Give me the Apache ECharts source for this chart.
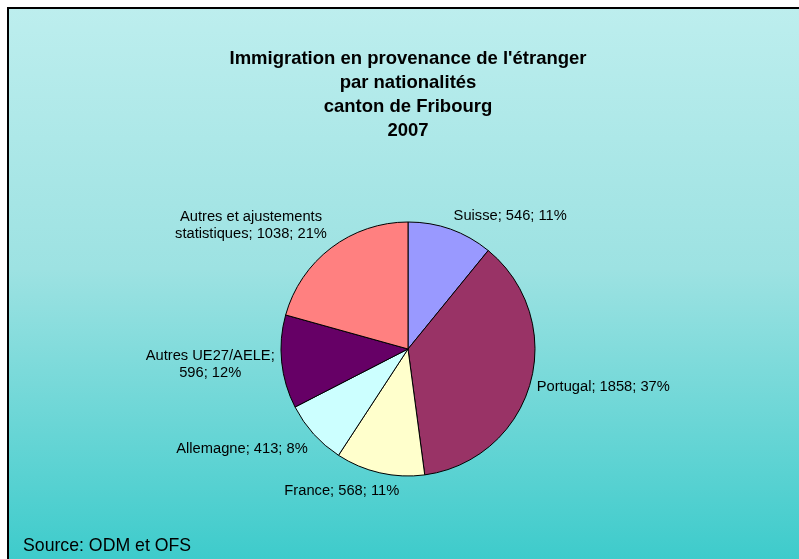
<!DOCTYPE html>
<html>
<head>
<meta charset="utf-8">
<script src="https://cdn.jsdelivr.net/npm/echarts@6/dist/echarts.min.js"></script>
<style>
  html, body { margin: 0; padding: 0; background: #fff; }
  #chart { width: 799px; height: 559px; }
</style>
</head>
<body>
<div id="chart"></div>
<script>
// données 2007, canton de Fribourg
var names = ['Suisse', 'Portugal', 'France', 'Allemagne', 'Autres UE27/AELE', 'Autres et ajustements statistiques'];
var values = [546, 1858, 568, 413, 596, 1038];
var colors = ['#9999FF', '#993366', '#FFFFCC', '#CCFFFF', '#660066', '#FF8080'];
var titleLines = ["Immigration en provenance de l'étranger", 'par nationalités', 'canton de Fribourg', '2007'];
var sourceText = 'Source: ODM et OFS';

// petits décalages des étiquettes (comme Excel les place)
var labelNudge = [[-6, -2], [-10, 0], [27, 6], [8, 7], [10, 1], [8, -13]];

var chart = echarts.init(document.getElementById('chart'));

var pieData = [];
for (var i = 0; i < names.length; i++) {
    pieData.push({
        name: names[i],
        value: values[i],
        itemStyle: { color: colors[i] }
    });
}

// étiquettes sur deux lignes, centrées
function labelText(p) {
    if (p.dataIndex == 5) {
        return '{c|Autres et ajustements}\n{c|statistiques; ' + p.value + '; ' + p.percent + '%}';
    }
    if (p.dataIndex == 4) {
        return '{c|Autres UE27/AELE;}\n{c|' + p.value + '; ' + p.percent + '%}';
    }
    return p.name + '; ' + p.value + '; ' + p.percent + '%';
}

var option = {
    animation: false,
    textStyle: { fontFamily: 'Liberation Sans, Arial, sans-serif' },
    graphic: [{
        type: 'rect',
        z: -10,
        shape: { x: 8, y: 8, width: 820, height: 580 },
        style: {
            fill: new echarts.graphic.LinearGradient(0, 0, 0, 1, [
                { offset: 0, color: '#BDEEEE' },
                { offset: 0.45, color: '#9DE2E2' },
                { offset: 1, color: '#34C9C9' }
            ]),
            stroke: '#000',
            lineWidth: 2
        }
    }, {
        type: 'text',
        x: 408,
        y: 47,
        style: {
            text: titleLines.join('\n'),
            fill: '#000',
            font: 'bold 18.5px "Liberation Sans", Arial, sans-serif',
            lineHeight: 24,
            align: 'center',
            verticalAlign: 'top'
        }
    }, {
        type: 'text',
        x: 23,
        y: 537,
        style: {
            text: sourceText,
            fill: '#000',
            font: '17.7px "Liberation Sans", Arial, sans-serif',
            verticalAlign: 'top'
        }
    }],
    series: [{
        type: 'pie',
        center: [408, 349],
        radius: 127,
        startAngle: 90,
        clockwise: true,
        percentPrecision: 0,
        avoidLabelOverlap: false,
        itemStyle: { borderColor: '#000', borderWidth: 1 },
        emphasis: { disabled: true },
        label: {
            show: true,
            position: 'outside',
            formatter: labelText,
            color: '#000',
            fontSize: 14.7,
            lineHeight: 17,
            rich: {
                c: { fontSize: 14.7, lineHeight: 17, align: 'center', color: '#000' }
            }
        },
        labelLine: { show: false, length: 12, length2: 0 },
        labelLayout: function (p) {
            var n = labelNudge[p.dataIndex];
            return { dx: n[0], dy: n[1] };
        },
        data: pieData
    }]
};

chart.setOption(option);
</script>
</body>
</html>
